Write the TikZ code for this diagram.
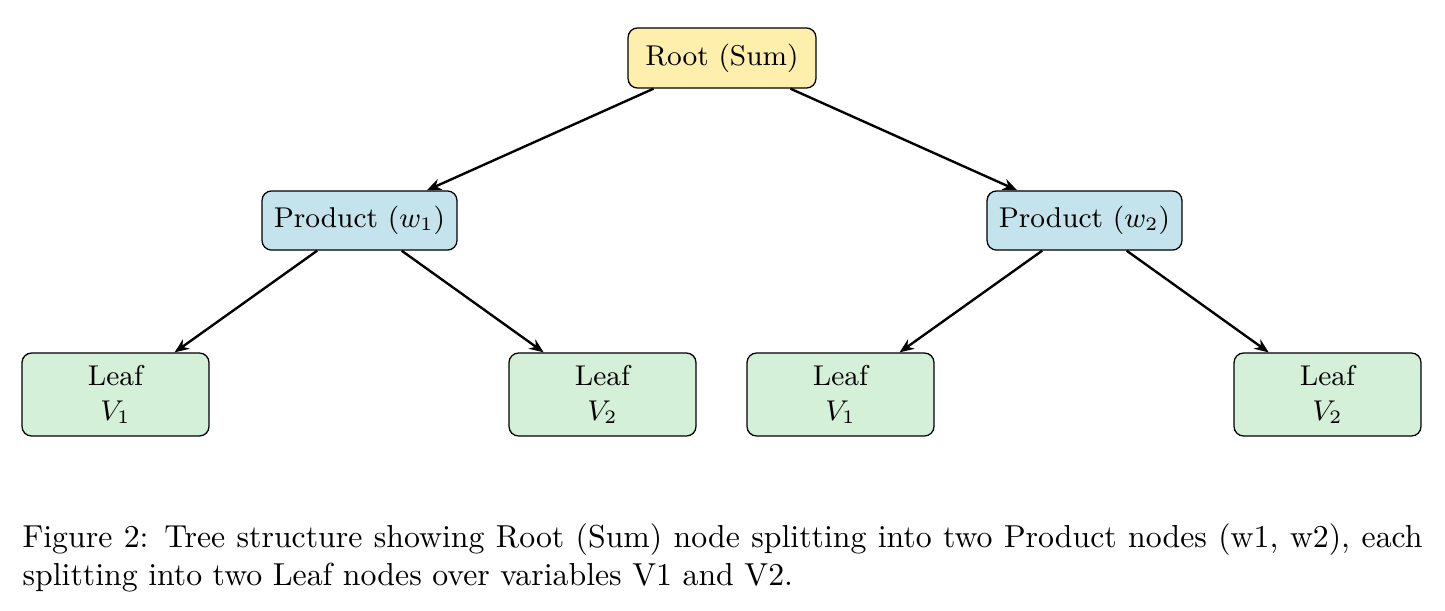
\documentclass[tikz,border=0pt]{standalone}
\usetikzlibrary{arrows.meta}
\definecolor{rootfill}{RGB}{255,239,172}
\definecolor{prodfill}{RGB}{196,227,236}
\definecolor{leaffill}{RGB}{212,240,216}
\begin{document}
\begin{tikzpicture}[x=0.3145pt,y=-0.3145pt,
  box/.style={draw=black, line width=0.4pt, rounded corners=3pt, font=\small, inner sep=2pt},
  rootbox/.style={box, fill=rootfill, minimum width=59.1pt, minimum height=18.9pt},
  prodbox/.style={box, fill=prodfill, minimum width=61.3pt, minimum height=18.6pt},
  leafbox/.style={box, fill=leaffill, minimum width=58.8pt, minimum height=26.1pt, align=center},
  link/.style={-{Stealth[length=4.5pt,width=3.6pt]}, line width=0.75pt},
  captionnode/.style={anchor=north west, inner sep=0pt, text width=440.3pt, align=justify, font=\normalsize}]
\useasboundingbox (0,0) rectangle (1445,610);
\node[rootbox] (root) at (722,58) {Root (Sum)};
\node[prodbox] (p1) at (359.5,220.5) {Product ($w_1$)};
\node[prodbox] (p2) at (1084.5,220.5) {Product ($w_2$)};
\node[leafbox] (l1) at (115.5,394.5) {Leaf\\$V_1$};
\node[leafbox] (l2) at (602.5,394.5) {Leaf\\$V_2$};
\node[leafbox] (l3) at (840.5,394.5) {Leaf\\$V_1$};
\node[leafbox] (l4) at (1327.5,394.5) {Leaf\\$V_2$};
\draw[link] (root) -- (p1);
\draw[link] (root) -- (p2);
\draw[link] (p1) -- (l1);
\draw[link] (p1) -- (l2);
\draw[link] (p2) -- (l3);
\draw[link] (p2) -- (l4);
\node[captionnode] (cap) at (22,523) {Figure 2: Tree structure showing Root (Sum) node splitting into two Product nodes (w1, w2), each splitting into two Leaf nodes over variables V1 and V2.};
\end{tikzpicture}
\end{document}
